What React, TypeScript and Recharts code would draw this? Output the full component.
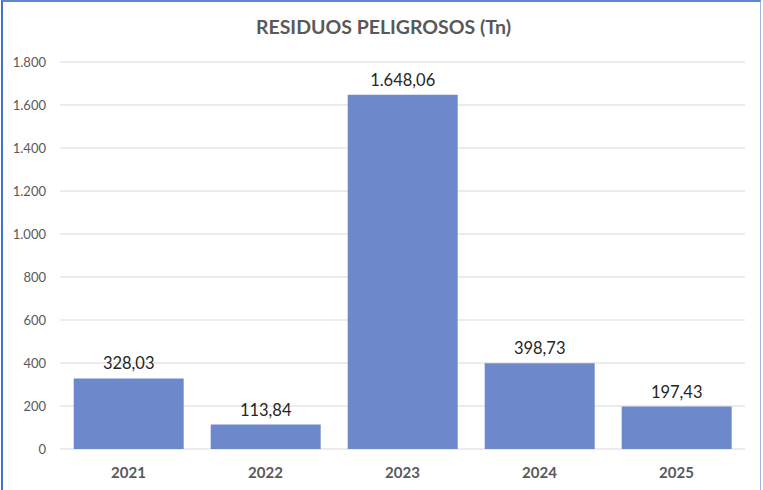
import React from 'react';
import { BarChart, Bar, XAxis, YAxis, CartesianGrid, LabelList } from 'recharts';

const years = ['2021', '2022', '2023', '2024', '2025'];
const tonnes = [328.03, 113.84, 1648.06, 398.73, 197.43];
const yTicks = [0, 200, 400, 600, 800, 1000, 1200, 1400, 1600, 1800];

const data = years.map((year, i) => ({ year, value: tonnes[i] }));

const FONT = 'Lato, "Liberation Sans", sans-serif';

// 1648.06 -> "1.648,06", 1800 -> "1.800"
const groupThousands = (s: string) => s.replace(/\B(?=(\d{3})+(?!\d))/g, '.');
const fmtTick = (v: number) => groupThousands(String(v));
const fmtLabel = (v: any) => {
  const [int, dec] = Number(v).toFixed(2).split('.');
  return `${groupThousands(int)},${dec}`;
};

export default function App() {
  return (
    <div
      style={{
        position: 'absolute',
        left: 0,
        top: 0,
        width: 763,
        height: 490,
        background: '#fff',
        fontFamily: FONT,
        overflow: 'hidden',
      }}
    >
      {/* frame */}
      <div
        style={{
          position: 'absolute',
          left: 1,
          top: 0,
          width: 760,
          height: 500,
          boxSizing: 'border-box',
          borderLeft: '2px solid #4472C4',
          borderTop: '2px solid #5B86D0',
          borderRight: '1px solid #9DB3E0',
        }}
      />
      <div
        style={{
          position: 'absolute',
          left: 0,
          width: 763,
          top: 15,
          textAlign: 'center',
          fontSize: 19.5,
          fontWeight: 700,
          color: '#595959',
          paddingLeft: 2,
        }}
      >
        RESIDUOS PELIGROSOS (Tn)
      </div>
      <div style={{ position: 'absolute', left: 0, top: 0 }}>
        <BarChart
          width={763}
          height={490}
          data={data}
          margin={{ top: 62, right: 18, bottom: 0, left: 0 }}
          barCategoryGap="10%"
        >
          <CartesianGrid vertical={false} stroke="#D9D9D9" strokeWidth={1} />
          <XAxis
            dataKey="year"
            axisLine={false}
            tickLine={false}
            height={41}
            tickMargin={12}
            tick={{ fill: '#595959', fontSize: 15, fontWeight: 700, fontFamily: FONT }}
          />
          <YAxis
            width={60}
            domain={[0, 1800]}
            ticks={yTicks}
            axisLine={false}
            tickLine={false}
            tickMargin={8}
            tickFormatter={fmtTick}
            tick={{ fill: '#595959', fontSize: 13, fontFamily: FONT }}
          />
          <Bar dataKey="value" fill="#6D89CC" isAnimationActive={false}>
            <LabelList
              dataKey="value"
              position="top"
              offset={9}
              formatter={fmtLabel}
              style={{ fill: '#262626', fontSize: 16.5, fontFamily: FONT }}
            />
          </Bar>
        </BarChart>
      </div>
    </div>
  );
}
